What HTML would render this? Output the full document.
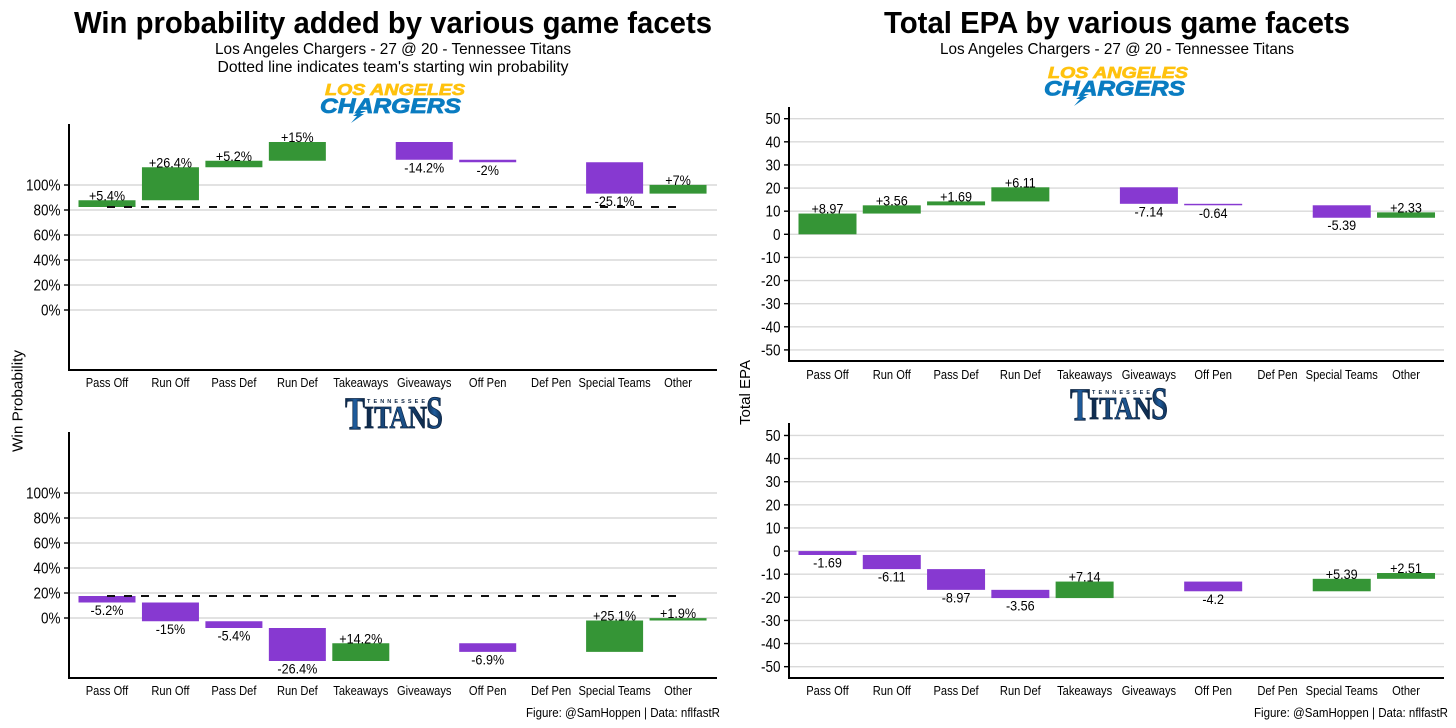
<!DOCTYPE html>
<html lang="en">
<head>
<meta charset="utf-8">
<title>Win probability and EPA by game facets</title>
<style>
html,body{margin:0;padding:0;background:#fff;}
svg{display:block;}
text{font-family:"Liberation Sans",sans-serif;fill:#000;}
.wide{font-family:"Liberation Sans",sans-serif;}
</style>
</head>
<body>
<svg id="figure" xmlns="http://www.w3.org/2000/svg" width="1456" height="728" viewBox="0 0 1456 728">
  <defs>
    <linearGradient id="titansFill" x1="0" y1="0" x2="1" y2="0">
      <stop offset="0" stop-color="#0c2340"/>
      <stop offset="0.5" stop-color="#1f5d9e"/>
      <stop offset="1" stop-color="#0c2340"/>
    </linearGradient>
  </defs>
  <rect x="0" y="0" width="1456" height="728" fill="#fff"/>

  <text class="wide" x="393" y="33" text-anchor="middle" font-size="31" font-weight="700" textLength="638" lengthAdjust="spacingAndGlyphs">Win probability added by various game facets</text>
  <text x="393" y="54" text-anchor="middle" font-size="16" textLength="356" lengthAdjust="spacingAndGlyphs">Los Angeles Chargers - 27 @ 20 - Tennessee Titans</text>
  <text x="393" y="72" text-anchor="middle" font-size="16" textLength="351" lengthAdjust="spacingAndGlyphs">Dotted line indicates team's starting win probability</text>
  <text class="wide" x="1117" y="33" text-anchor="middle" font-size="31" font-weight="700" textLength="466" lengthAdjust="spacingAndGlyphs">Total EPA by various game facets</text>
  <text x="1117" y="54" text-anchor="middle" font-size="16" textLength="354" lengthAdjust="spacingAndGlyphs">Los Angeles Chargers - 27 @ 20 - Tennessee Titans</text>

  <g>
    <text class="wide" x="325" y="95" font-size="16" font-weight="700" font-style="italic" style="fill:#ffc20e" stroke="#ffc20e" stroke-width="0.7" textLength="140" lengthAdjust="spacingAndGlyphs">LOS ANGELES</text>
    <text class="wide" x="320" y="113" font-size="21.5" font-weight="700" font-style="italic" style="fill:#0a7cc1" stroke="#0a7cc1" stroke-width="0.8" textLength="141" lengthAdjust="spacingAndGlyphs">CHARGERS</text>
    <polygon points="360,111 353,116 357,116 351,123 364,114 360,114 366,111" fill="#0a7cc1"/>
  </g>
  <g>
    <text class="wide" x="1048" y="78" font-size="16" font-weight="700" font-style="italic" style="fill:#ffc20e" stroke="#ffc20e" stroke-width="0.7" textLength="140" lengthAdjust="spacingAndGlyphs">LOS ANGELES</text>
    <text class="wide" x="1044" y="95.5" font-size="21.5" font-weight="700" font-style="italic" style="fill:#0a7cc1" stroke="#0a7cc1" stroke-width="0.8" textLength="141" lengthAdjust="spacingAndGlyphs">CHARGERS</text>
    <polygon points="1083,94 1076,99 1080,99 1074,106 1087,97 1083,97 1089,94" fill="#0a7cc1"/>
  </g>

  <g>
    <text x="345" y="429" style="font-family:'Liberation Serif',serif;fill:url(#titansFill)" font-size="47" font-weight="700" stroke="#0c2340" stroke-width="0.8" textLength="20" lengthAdjust="spacingAndGlyphs">T</text>
    <text x="364" y="428" style="font-family:'Liberation Serif',serif;fill:url(#titansFill)" font-size="32" font-weight="700" stroke="#0c2340" stroke-width="0.8" textLength="63" lengthAdjust="spacingAndGlyphs">ITAN</text>
    <text x="426" y="428" style="font-family:'Liberation Serif',serif;fill:url(#titansFill)" font-size="47" font-weight="700" stroke="#0c2340" stroke-width="0.8" textLength="17" lengthAdjust="spacingAndGlyphs">S</text>
    <text class="wide" x="367" y="403" font-size="5.5" font-weight="700" style="fill:#0c2340" textLength="58" lengthAdjust="spacing">TENNESSEE</text>
  </g>
  <g>
    <text x="1070" y="420" style="font-family:'Liberation Serif',serif;fill:url(#titansFill)" font-size="47" font-weight="700" stroke="#0c2340" stroke-width="0.8" textLength="20" lengthAdjust="spacingAndGlyphs">T</text>
    <text x="1089" y="419" style="font-family:'Liberation Serif',serif;fill:url(#titansFill)" font-size="32" font-weight="700" stroke="#0c2340" stroke-width="0.8" textLength="63" lengthAdjust="spacingAndGlyphs">ITAN</text>
    <text x="1151" y="419" style="font-family:'Liberation Serif',serif;fill:url(#titansFill)" font-size="47" font-weight="700" stroke="#0c2340" stroke-width="0.8" textLength="17" lengthAdjust="spacingAndGlyphs">S</text>
    <text class="wide" x="1092" y="394" font-size="5.5" font-weight="700" style="fill:#0c2340" textLength="58" lengthAdjust="spacing">TENNESSEE</text>
  </g>

  <text class="wide" transform="translate(22.5 401) rotate(-90)" text-anchor="middle" font-size="14.5" textLength="102" lengthAdjust="spacingAndGlyphs">Win Probability</text>
  <text class="wide" transform="translate(750 392.5) rotate(-90)" text-anchor="middle" font-size="14.5" textLength="65" lengthAdjust="spacingAndGlyphs">Total EPA</text>

  <text x="720" y="717" text-anchor="end" font-size="12.5" textLength="194" lengthAdjust="spacingAndGlyphs">Figure: @SamHoppen | Data: nflfastR</text>
  <text x="1448" y="717" text-anchor="end" font-size="12.5" textLength="194" lengthAdjust="spacingAndGlyphs">Figure: @SamHoppen | Data: nflfastR</text>

  <g id="panels"></g>
</svg>

<script>
var categories = ["Pass Off", "Run Off", "Pass Def", "Run Def", "Takeaways", "Giveaways", "Off Pen", "Def Pen", "Special Teams", "Other"];
var chargersWpValues = [5.4, 26.4, 5.2, 15, 0, -14.2, -2, 0, -25.1, 7];
var titansWpValues = [-5.2, -15, -5.4, -26.4, 14.2, 0, -6.9, 0, 25.1, 1.9];
var chargersEpaValues = [8.97, 3.56, 1.69, 6.11, 0, -7.14, -0.64, 0, -5.39, 2.33];
var titansEpaValues = [-1.69, -6.11, -8.97, -3.56, 7.14, 0, -4.2, 0, 5.39, 2.51];
var chargersWpStart = 82.4;
var titansWpStart = 17.6;
var chargersEpaStart = 0;
var titansEpaStart = 0;
var wpTicks = [0, 20, 40, 60, 80, 100];
var epaTicks = [-50, -40, -30, -20, -10, 0, 10, 20, 30, 40, 50];

var SVG_NS = "http://www.w3.org/2000/svg";
var GREEN = "#359536";
var PURPLE = "#8739d1";
var panelsRoot = document.getElementById("panels");

function make(tag, attrs, parent) {
  var el = document.createElementNS(SVG_NS, tag);
  for (var k in attrs) el.setAttribute(k, attrs[k]);
  parent.appendChild(el);
  return el;
}

function squeeze(el, factor) {
  var natural = el.getComputedTextLength();
  el.setAttribute("textLength", (natural * factor).toFixed(2));
  el.setAttribute("lengthAdjust", "spacingAndGlyphs");
}

function linearScale(d0, d1, r0, r1) {
  return function (v) { return r0 + (v - d0) * (r1 - r0) / (d1 - d0); };
}

function bandScale(firstCenter, step) {
  return function (i) { return firstCenter + step * i; };
}

function drawPanel(p) {
  var g = make("g", {}, panelsRoot);
  
  

  var y = linearScale(p.domain[0], p.domain[1], p.bottom, p.top);
  var x = bandScale(p.firstCenter, p.step);

  p.ticks.forEach(function (t) {
    var grid = make("line", { x1: p.left, x2: p.right, y1: y(t), y2: y(t), stroke: "#d9d9d9", "stroke-width": 1.4 }, g);
    
    

    var tick = make("line", { x1: p.left - 5, x2: p.left, y1: y(t), y2: y(t), stroke: "#000", "stroke-width": 1.4 }, g);
    
    

    var label = make("text", { x: p.left - 8.5, y: y(t) + 5.5, "text-anchor": "end", "font-size": 15.5 }, g);
    
    
    label.textContent = t + p.suffix;
    squeeze(label, 0.87);
  });

  var running = p.start;
  p.values.forEach(function (v, i) {
    if (v === 0) return;
    var next = running + v;
    var hi = Math.max(running, next);
    var lo = Math.min(running, next);
    var bar = make("rect", {
      x: x(i) - p.barWidth / 2,
      y: y(hi),
      width: p.barWidth,
      height: y(lo) - y(hi),
      fill: v > 0 ? GREEN : PURPLE
    }, g);
    
    

    var lab = make("text", {
      x: x(i),
      y: v > 0 ? y(hi) : y(lo) + 12.5,
      "text-anchor": "middle",
      "font-size": 14
    }, g);
    
    
    lab.textContent = (v > 0 ? "+" : "") + v + p.suffix;
    squeeze(lab, 0.9);

    running = next;
  });

  if (p.showStartLine) {
    var dash = make("line", {
      x1: x(0),
      x2: x(categories.length - 1),
      y1: y(p.start),
      y2: y(p.start),
      stroke: "#111",
      "stroke-width": 2,
      "stroke-dasharray": "8 9"
    }, g);
    
    
  }

  var yAxis = make("line", { x1: p.left, x2: p.left, y1: p.top, y2: p.bottom + 1, stroke: "#000", "stroke-width": 2 }, g);
  
  

  var xAxis = make("line", { x1: p.left - 1, x2: p.right, y1: p.bottom, y2: p.bottom, stroke: "#000", "stroke-width": 2 }, g);
  
  

  categories.forEach(function (c, i) {
    var cat = make("text", { x: x(i), y: p.catY, "text-anchor": "middle", "font-size": 12.5 }, g);
    
    
    cat.textContent = c;
    squeeze(cat, 0.89);
  });
}

drawPanel({ name: "wp-chargers", values: chargersWpValues, start: chargersWpStart, ticks: wpTicks, suffix: "%", showStartLine: true,
  domain: [-48, 148.8], top: 124, bottom: 370, left: 69, right: 717, firstCenter: 107, step: 63.45, barWidth: 57, catY: 387 });
drawPanel({ name: "wp-titans", values: titansWpValues, start: titansWpStart, ticks: wpTicks, suffix: "%", showStartLine: true,
  domain: [-48, 148.8], top: 432, bottom: 678, left: 69, right: 717, firstCenter: 107, step: 63.45, barWidth: 57, catY: 695 });
drawPanel({ name: "epa-chargers", values: chargersEpaValues, start: chargersEpaStart, ticks: epaTicks, suffix: "", showStartLine: false,
  domain: [-54.8, 55.06], top: 107, bottom: 361, left: 789, right: 1444, firstCenter: 827.5, step: 64.28, barWidth: 58, catY: 379 });
drawPanel({ name: "epa-titans", values: titansEpaValues, start: titansEpaStart, ticks: epaTicks, suffix: "", showStartLine: false,
  domain: [-54.9, 55.4], top: 423, bottom: 678, left: 789, right: 1444, firstCenter: 827.5, step: 64.28, barWidth: 58, catY: 695 });
</script>
</body>
</html>
